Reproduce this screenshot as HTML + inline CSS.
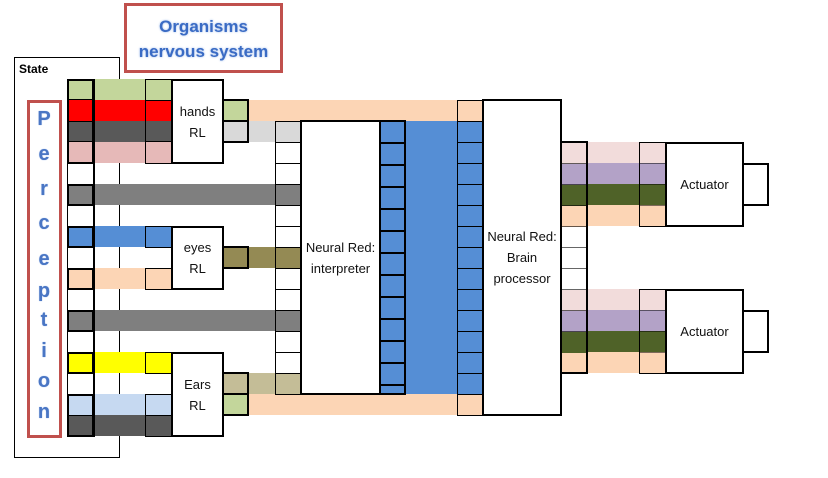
<!DOCTYPE html>
<html><head><meta charset="utf-8"><style>
body{margin:0;width:828px;height:478px;background:#fff;position:relative;overflow:hidden;font-family:"Liberation Sans",sans-serif}
div{position:absolute;box-sizing:border-box}
.c{border:1px solid #000}
.t{border:2px solid #000}
.b{border:2px solid #000;background:#fff;display:flex;align-items:center;justify-content:center;text-align:center;font-size:13px;line-height:21px;color:#111}
.L{color:#4a76c4;font-weight:bold;font-size:20px;left:27px;width:34px;text-align:center;text-shadow:0 0 1px #8fb0e8}
</style></head><body>
<!-- title -->
<div style="left:124px;top:3px;width:159px;height:70px;border:3px solid #c0504d;color:#3a6bc4;font-weight:bold;font-size:17px;text-align:center;line-height:25px;padding-top:8px;text-shadow:0 0 2px #9ab8ea">Organisms<br>nervous system</div>
<!-- state -->
<div style="left:14px;top:57px;width:106px;height:401px;border:1px solid #000"></div>
<div style="left:19px;top:62px;font-size:12px;font-weight:bold">State</div>
<div style="left:27px;top:100px;width:35px;height:338px;border:3px solid #c0504d"></div>
<div class="L" style="top:108px">P</div>
<div class="L" style="top:143px">e</div>
<div class="L" style="top:178px">r</div>
<div class="L" style="top:212px">c</div>
<div class="L" style="top:248px">e</div>
<div class="L" style="top:280px">p</div>
<div class="L" style="top:309px">t</div>
<div class="L" style="top:340px">i</div>
<div class="L" style="top:370px">o</div>
<div class="L" style="top:401px">n</div>

<!-- left bands -->
<div style="left:67px;top:79px;width:104px;height:21px;background:#c3d69b"></div>
<div style="left:67px;top:100px;width:104px;height:21px;background:#ff0000"></div>
<div style="left:67px;top:121px;width:104px;height:21px;background:#595959"></div>
<div style="left:67px;top:142px;width:104px;height:21px;background:#e6b9b8"></div>
<div style="left:67px;top:184px;width:234px;height:21px;background:#7f7f7f"></div>
<div style="left:67px;top:226px;width:104px;height:21px;background:#558ed5"></div>
<div style="left:67px;top:268px;width:104px;height:21px;background:#fcd5b5"></div>
<div style="left:67px;top:310px;width:234px;height:21px;background:#7f7f7f"></div>
<div style="left:67px;top:352px;width:104px;height:21px;background:#ffff00"></div>
<div style="left:67px;top:394px;width:104px;height:21px;background:#c6d9f1"></div>
<div style="left:67px;top:415px;width:104px;height:21px;background:#595959"></div>
<!-- left col1 cells -->
<div class="c" style="left:67px;top:79px;width:27px;height:358px"></div>
<div class="c" style="left:93px;top:79px;width:1px;height:358px"></div>
<div class="t" style="left:67px;top:79px;width:27px;height:85px"></div>
<div class="t" style="left:67px;top:99px;width:27px;height:23px;border-width:1px 0"></div>
<div class="t" style="left:67px;top:141px;width:27px;height:1px;border-width:1px 0 0"></div>
<div class="c" style="left:67px;top:163px;width:27px;height:22px"></div>
<div class="t" style="left:67px;top:184px;width:27px;height:22px"></div>
<div class="t" style="left:67px;top:226px;width:27px;height:22px"></div>
<div class="t" style="left:67px;top:268px;width:27px;height:22px"></div>
<div class="t" style="left:67px;top:310px;width:27px;height:22px"></div>
<div class="t" style="left:67px;top:352px;width:27px;height:22px"></div>
<div class="t" style="left:67px;top:394px;width:27px;height:43px"></div>
<div class="c" style="left:67px;top:415px;width:27px;height:1px;border-width:1px 0 0"></div>
<!-- col3 cells -->
<div class="c" style="left:145px;top:79px;width:27px;height:85px"></div>
<div class="c" style="left:145px;top:100px;width:27px;height:42px;border-width:1px 0"></div>
<div class="c" style="left:145px;top:226px;width:27px;height:22px"></div>
<div class="c" style="left:145px;top:268px;width:27px;height:22px"></div>
<div class="c" style="left:145px;top:352px;width:27px;height:22px"></div>
<div class="c" style="left:145px;top:394px;width:27px;height:43px"></div>
<div class="c" style="left:145px;top:415px;width:27px;height:1px;border-width:1px 0 0"></div>
<!-- RL boxes -->
<div class="b" style="left:171px;top:79px;width:53px;height:85px">hands<br>RL</div>
<div class="b" style="left:171px;top:226px;width:53px;height:64px">eyes<br>RL</div>
<div class="b" style="left:171px;top:352px;width:53px;height:85px">Ears<br>RL</div>

<!-- peach top/bottom bands -->
<div style="left:249px;top:100px;width:234px;height:21px;background:#fcd5b5"></div>
<div style="left:249px;top:394px;width:234px;height:21px;background:#fcd5b5"></div>
<div style="left:249px;top:121px;width:52px;height:21px;background:#d9d9d9"></div>
<div style="left:249px;top:247px;width:52px;height:21px;background:#948a54"></div>
<div style="left:249px;top:373px;width:52px;height:21px;background:#c4bd97"></div>
<!-- RL outputs -->
<div class="t" style="left:222px;top:99px;width:27px;height:23px;background:#c3d69b"></div>
<div class="t" style="left:222px;top:120px;width:27px;height:23px;background:#d9d9d9"></div>
<div class="t" style="left:222px;top:246px;width:27px;height:23px;background:#948a54"></div>
<div class="t" style="left:222px;top:372px;width:27px;height:23px;background:#c4bd97"></div>
<div class="t" style="left:222px;top:393px;width:27px;height:23px;background:#c3d69b"></div>
<!-- input column to interpreter -->
<div class="c" style="left:275px;top:121px;width:27px;height:274px"></div>
<div style="left:276px;top:122px;width:25px;height:20px;background:#d9d9d9"></div>
<div style="left:276px;top:185px;width:25px;height:20px;background:#7f7f7f"></div>
<div style="left:276px;top:248px;width:25px;height:20px;background:#948a54"></div>
<div style="left:276px;top:311px;width:25px;height:20px;background:#7f7f7f"></div>
<div style="left:276px;top:374px;width:25px;height:20px;background:#c4bd97"></div>
<div style="left:275px;top:142px;width:27px;height:232px;background:repeating-linear-gradient(#000 0 1px,transparent 1px 21px)"></div>

<!-- interpreter -->
<div class="b" style="left:300px;top:120px;width:81px;height:275px">Neural Red:<br>interpreter</div>
<div style="left:379px;top:121px;width:104px;height:273px;background:#558ed5"></div>
<div class="t" style="left:379px;top:120px;width:27px;height:275px;background:repeating-linear-gradient(#558ed5 0 20px,#000 20px 22px)"></div>
<div class="c" style="left:457px;top:100px;width:27px;height:316px;background:linear-gradient(#fcd5b5 0 21px,transparent 21px)"></div>
<div style="left:458px;top:121px;width:25px;height:273px;background:repeating-linear-gradient(#000 0 1px,transparent 1px 21px)"></div>
<div style="left:458px;top:394px;width:25px;height:21px;background:#fcd5b5;border-top:1px solid #000"></div>
<div class="b" style="left:482px;top:99px;width:80px;height:317px">Neural Red:<br>Brain<br>processor</div>

<!-- right column -->
<div style="left:587px;top:142px;width:78px;height:21px;background:#f2dcdb"></div>
<div style="left:587px;top:163px;width:78px;height:21px;background:#b3a2c7"></div>
<div style="left:587px;top:184px;width:78px;height:21px;background:#4f6228"></div>
<div style="left:587px;top:205px;width:78px;height:21px;background:#fcd5b5"></div>
<div style="left:587px;top:289px;width:78px;height:21px;background:#f2dcdb"></div>
<div style="left:587px;top:310px;width:78px;height:21px;background:#b3a2c7"></div>
<div style="left:587px;top:331px;width:78px;height:21px;background:#4f6228"></div>
<div style="left:587px;top:352px;width:78px;height:21px;background:#fcd5b5"></div>
<div class="t" style="left:560px;top:141px;width:28px;height:233px;background:linear-gradient(#f2dcdb 0 21px,#b3a2c7 21px 42px,#4f6228 42px 63px,#fcd5b5 63px 84px,#fff 84px 147px,#f2dcdb 147px 168px,#b3a2c7 168px 189px,#4f6228 189px 210px,#fcd5b5 210px)"></div>
<div style="left:562px;top:163px;width:24px;height:189px;background:repeating-linear-gradient(rgba(0,0,0,.6) 0 1px,transparent 1px 21px)"></div>
<div class="c" style="left:639px;top:142px;width:27px;height:85px;background:repeating-linear-gradient(transparent 0 20px,rgba(0,0,0,.5) 20px 21px)"></div>
<div class="c" style="left:639px;top:289px;width:27px;height:85px;background:repeating-linear-gradient(transparent 0 20px,rgba(0,0,0,.5) 20px 21px)"></div>
<div class="b" style="left:665px;top:142px;width:79px;height:85px">Actuator</div>
<div class="t" style="left:742px;top:163px;width:27px;height:43px"></div>
<div class="b" style="left:665px;top:289px;width:79px;height:85px">Actuator</div>
<div class="t" style="left:742px;top:310px;width:27px;height:43px"></div>
</body></html>
